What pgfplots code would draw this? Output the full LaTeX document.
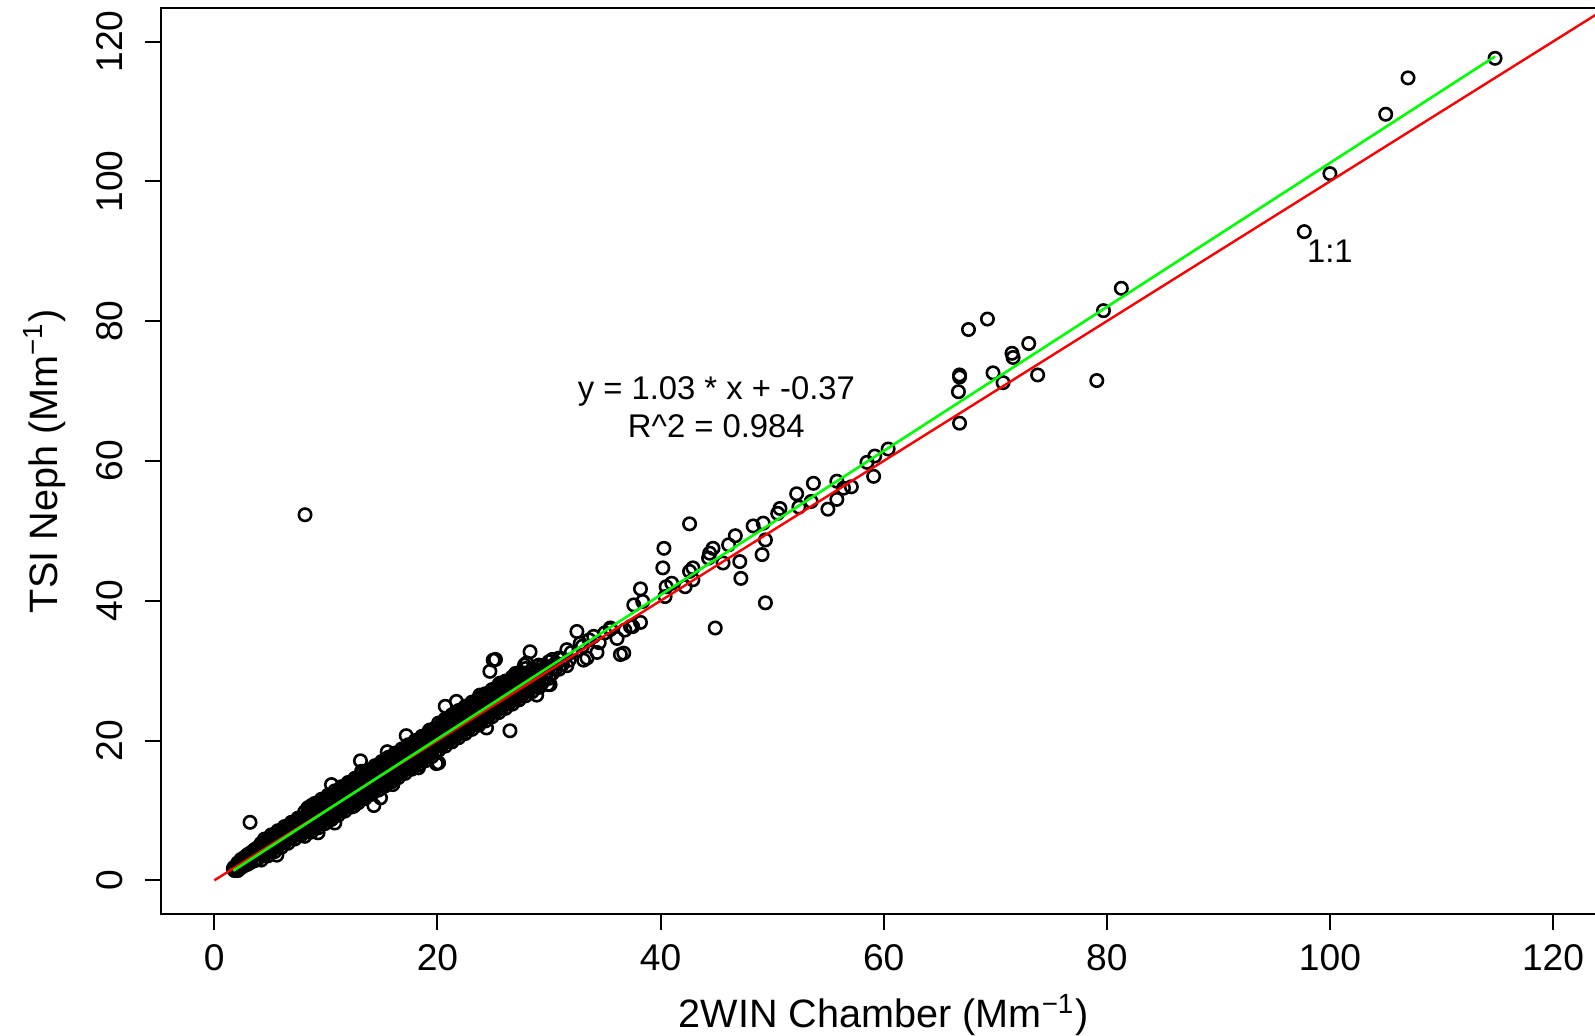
\documentclass[border=0pt]{standalone}
\usepackage{fontspec}
\setmainfont{Liberation Sans}
\usepackage{pgfplots}
\usepackage{pgfplotstable}
\pgfplotsset{compat=1.18}

% dense part of the cloud, several points per x
\pgfplotstableread{
x a b c d e f
1.8 1.4 1.9 nan nan nan nan
2.1 1.4 2.0 2.5 nan nan nan
2.4 1.8 2.4 3.0 nan nan nan
2.7 2.1 2.7 3.3 nan nan nan
3.0 2.3 3.0 3.7 nan nan nan
3.3 2.6 3.3 4.0 nan nan nan
3.6 2.8 3.6 4.4 nan nan nan
3.9 3.1 3.9 4.7 nan nan nan
4.2 2.9 3.7 4.5 5.3 nan nan
4.5 3.6 4.4 5.2 5.9 nan nan
4.8 3.5 4.3 5.1 5.9 nan nan
5.1 4.2 5.0 5.8 6.5 nan nan
5.4 4.1 4.9 5.7 6.5 nan nan
5.7 4.8 5.6 6.4 7.1 nan nan
6.0 4.7 5.5 6.3 7.1 nan nan
6.3 5.4 6.2 7.0 7.7 nan nan
6.6 5.3 6.1 6.9 7.7 nan nan
6.9 6.0 6.8 7.6 8.3 nan nan
7.2 5.9 6.7 7.5 8.3 nan nan
7.5 6.6 7.4 8.2 8.9 nan nan
7.8 6.5 7.3 8.1 8.9 nan nan
8.1 6.3 7.0 7.7 8.4 9.1 9.8
8.4 6.95 7.65 8.35 9.05 9.75 10.4
8.7 6.9 7.6 8.3 9.0 9.7 10.4
9.0 7.55 8.25 8.95 9.65 10.35 11.0
9.3 7.5 8.2 8.9 9.6 10.3 11.0
9.6 8.15 8.85 9.55 10.25 10.95 11.6
9.9 8.1 8.8 9.5 10.2 10.9 11.6
10.2 8.75 9.45 10.15 10.85 11.55 12.2
10.5 8.7 9.4 10.1 10.8 11.5 12.2
10.8 9.35 10.05 10.75 11.45 12.15 12.8
11.1 9.3 10.0 10.7 11.4 12.1 12.8
11.4 9.95 10.65 11.35 12.05 12.75 13.4
11.7 9.9 10.6 11.3 12.0 12.7 13.4
12.0 10.55 11.25 11.95 12.65 13.35 14.0
12.3 10.5 11.2 11.9 12.6 13.3 14.0
12.6 11.15 11.85 12.55 13.25 13.95 14.6
12.9 11.1 11.8 12.5 13.2 13.9 14.6
13.2 11.75 12.45 13.15 13.85 14.55 15.2
13.5 11.7 12.4 13.1 13.8 14.5 15.2
13.8 12.35 13.05 13.75 14.45 15.15 15.8
14.1 12.3 13.0 13.7 14.4 15.1 15.8
14.4 12.95 13.65 14.35 15.05 15.75 16.4
14.7 12.9 13.6 14.3 15.0 15.7 16.4
15.0 13.55 14.25 14.95 15.65 16.35 17.0
15.3 13.5 14.2 14.9 15.6 16.3 17.0
15.6 14.15 14.85 15.55 16.25 16.95 17.6
15.9 14.1 14.8 15.5 16.2 16.9 17.6
16.2 14.75 15.45 16.15 16.85 17.55 18.2
16.5 14.7 15.4 16.1 16.8 17.5 18.2
16.8 15.35 16.05 16.75 17.45 18.15 18.8
17.1 15.3 16.0 16.7 17.4 18.1 18.8
17.4 15.95 16.65 17.35 18.05 18.75 19.4
17.7 15.9 16.6 17.3 18.0 18.7 19.4
18.0 16.55 17.25 17.95 18.65 19.35 20.0
18.3 16.5 17.2 17.9 18.6 19.3 20.0
18.6 17.15 17.85 18.55 19.25 19.95 20.6
18.9 17.1 17.8 18.5 19.2 19.9 20.6
19.2 17.75 18.45 19.15 19.85 20.55 21.2
19.5 17.7 18.4 19.1 19.8 20.5 21.2
19.8 18.35 19.05 19.75 20.45 21.15 21.8
20.1 18.6 19.4 20.2 21.0 21.8 22.5
20.4 19.3 20.1 20.9 21.7 22.5 nan
20.7 19.2 20.0 20.8 21.6 22.4 23.1
21.0 19.9 20.7 21.5 22.3 23.1 nan
21.3 19.8 20.6 21.4 22.2 23.0 23.7
21.6 20.5 21.3 22.1 22.9 23.7 nan
21.9 20.4 21.2 22.0 22.8 23.6 24.3
22.2 21.1 21.9 22.7 23.5 24.3 nan
22.5 21.0 21.8 22.6 23.4 24.2 24.9
22.8 21.7 22.5 23.3 24.1 24.9 nan
23.1 21.6 22.4 23.2 24.0 24.8 25.5
23.4 22.3 23.1 23.9 24.7 25.5 nan
23.7 22.2 23.0 23.8 24.6 25.4 26.1
24.0 22.9 23.7 24.5 25.3 26.1 nan
24.3 22.8 23.6 24.4 25.2 26.0 26.7
24.6 23.5 24.3 25.1 25.9 26.7 nan
24.9 23.4 24.2 25.0 25.8 26.6 27.3
25.2 24.1 24.9 25.7 26.5 27.3 nan
25.5 24.0 24.8 25.6 26.4 27.2 27.9
25.8 24.7 25.5 26.3 27.1 27.9 nan
26.1 24.6 25.4 26.2 27.0 27.8 28.5
26.4 25.3 26.1 26.9 27.7 28.5 nan
26.7 25.2 26.0 26.8 27.6 28.4 29.1
27.0 25.9 26.7 27.5 28.3 29.1 nan
27.3 25.8 26.6 27.4 28.2 29.0 29.7
27.6 26.5 27.3 28.1 28.9 29.7 nan
27.9 26.4 27.2 28.0 28.8 29.6 30.3
28.2 27.1 27.9 28.7 29.5 nan nan
28.5 27.0 27.8 28.6 29.4 30.2 nan
28.8 27.7 28.5 29.3 30.1 nan nan
29.1 27.6 28.4 29.2 30.0 30.8 nan
29.4 28.3 29.9 30.7 nan nan nan
29.7 29.0 29.8 30.6 nan nan nan
30.0 28.9 30.5 31.3 nan nan nan
30.3 29.6 30.4 nan nan nan nan
30.6 30.3 31.1 nan nan nan nan
30.9 30.2 31.8 nan nan nan nan
31.2 30.9 31.7 nan nan nan nan
31.8 31.5 nan nan nan nan nan
}\bandtable

\begin{document}
\begin{tikzpicture}
\fontsize{9.3}{11}\selectfont
\begin{axis}[
  at={(0,0)}, anchor=south west,
  scale only axis,
  width=361.5pt, height=226.5pt,
  xmin=-4.8, xmax=124.8,
  ymin=-4.8, ymax=124.8,
  clip marker paths=true,
  xtick={0,20,...,120}, ytick={0,20,...,120},
  tick align=outside, tick pos=left,
  major tick length=4pt,
  every tick/.style={black, line width=0.5pt},
  axis line style={line width=0.6pt},
  /pgf/number format/assume math mode=true,
  tick label style={font=\fontsize{9.3}{11}\selectfont},
  xticklabel style={anchor=north, inner sep=0pt, yshift=-3.4pt},
  yticklabel style={rotate=90, anchor=south, inner sep=0pt, yshift=5.4pt},
  xlabel={2WIN Chamber (Mm\textsuperscript{−1})},
  ylabel={TSI Neph (Mm\textsuperscript{−1})},
  label style={font=\fontsize{9.9}{11}\selectfont},
  xlabel style={at={(axis description cs:0.5,0)}, anchor=base, inner sep=0pt, yshift=-28.5pt},
  ylabel style={at={(axis description cs:0,0.5)}, anchor=base, inner sep=0pt, yshift=25.9pt},
  pts/.style={only marks, mark=o, mark size=1.55pt, mark options={line width=0.65pt, black}},
]
\foreach \col in {a,b,c,d,e,f}{
  \addplot[pts] table[x=x, y=\col] {\bandtable};
}
% scattered points
\addplot[pts] coordinates {
(8.13,52.3)(3.2,8.3)(1.7,1.7)(5.6,3.6)
(8.7,10.7)(10.5,13.7)(10.8,8.2)(9.3,6.8)(13.1,17.1)(13.2,15.6)(12.5,10.6)(14.3,10.7)
(14.9,11.8)(15.5,18.4)(16.0,13.7)(17.2,20.7)(18.3,16.1)(19.3,21.4)(19.9,16.7)(20.1,16.8)
(20.7,24.9)(21.7,25.6)(19.3,21.5)
(23.8,26.5)(24.4,21.8)(24.7,29.9)(25.0,31.5)(25.2,31.6)(25.5,28.0)(26.5,21.4)(27.0,29.6)
(26.9,29.2)(25.6,28.2)(28.0,31.1)(28.3,32.7)(27.8,30.8)(28.9,26.5)(29.9,28.0)(30.1,28.0)
(30.3,31.6)(31.6,30.7)(31.6,33.0)(32.0,32.6)(33.0,33.5)(34.5,34.0)(35.0,35.4)(33.6,34.4)
(32.5,35.6)(32.8,33.9)(33.1,31.5)(33.4,31.8)(34.0,34.9)(34.3,32.6)(35.5,36.1)(35.5,35.9)
(36.1,34.6)(36.4,32.3)(36.7,32.5)(36.8,35.8)(37.3,36.3)(37.5,36.3)(37.6,39.4)(38.2,41.7)
(38.4,39.9)(38.2,36.9)
(40.3,47.5)(40.2,44.7)(40.5,42.0)(40.4,40.6)(41.0,42.5)(42.2,42.0)(42.6,51.0)(42.9,44.7)
(42.6,44.2)(42.9,43.0)(44.9,36.1)(44.7,47.5)(44.4,46.8)(44.3,46.1)(45.6,45.4)(46.1,48.0)
(46.7,49.3)(47.1,45.6)(47.2,43.2)(48.3,50.7)(49.2,51.1)(49.4,48.7)(49.1,46.6)(49.4,39.7)
(50.5,52.5)(50.7,53.2)(52.2,55.3)(52.4,53.4)(53.5,54.2)(53.7,56.8)(55.0,53.1)(55.8,54.5)
(55.8,57.1)(56.4,56.1)(57.1,56.3)(58.5,59.8)(59.1,57.8)(59.2,60.7)(60.4,61.7)
(66.8,65.4)(66.7,69.9)(66.8,72.3)(66.8,72.0)(67.6,78.8)(69.3,80.3)(69.8,72.6)(70.7,71.2)
(71.5,75.4)(71.6,74.8)(73.0,76.8)(73.8,72.3)(79.1,71.5)(79.7,81.5)(81.3,84.7)(97.7,92.8)
(100.0,101.1)(105.0,109.6)(107.0,114.8)(114.8,117.6)
};
% 1:1 line
\addplot[red, line width=0.6pt] coordinates {(0,0)(130,130)};
% fitted line
\addplot[green, line width=0.65pt] coordinates {(1.7,1.38)(114.8,117.87)};
\node[font=\fontsize{8.2}{10}\selectfont] at (axis cs:45,70) {y = 1.03 * x + -0.37};
\node[font=\fontsize{8.2}{10}\selectfont] at (axis cs:45,65) {R\^{}2 = 0.984};
\node[font=\fontsize{8.2}{10}\selectfont] at (axis cs:100,90) {1:1};
\end{axis}
\pgfresetboundingbox
\useasboundingbox (-40.2pt,-30.5pt) rectangle (358.6pt,228.5pt);
\end{tikzpicture}
\end{document}
